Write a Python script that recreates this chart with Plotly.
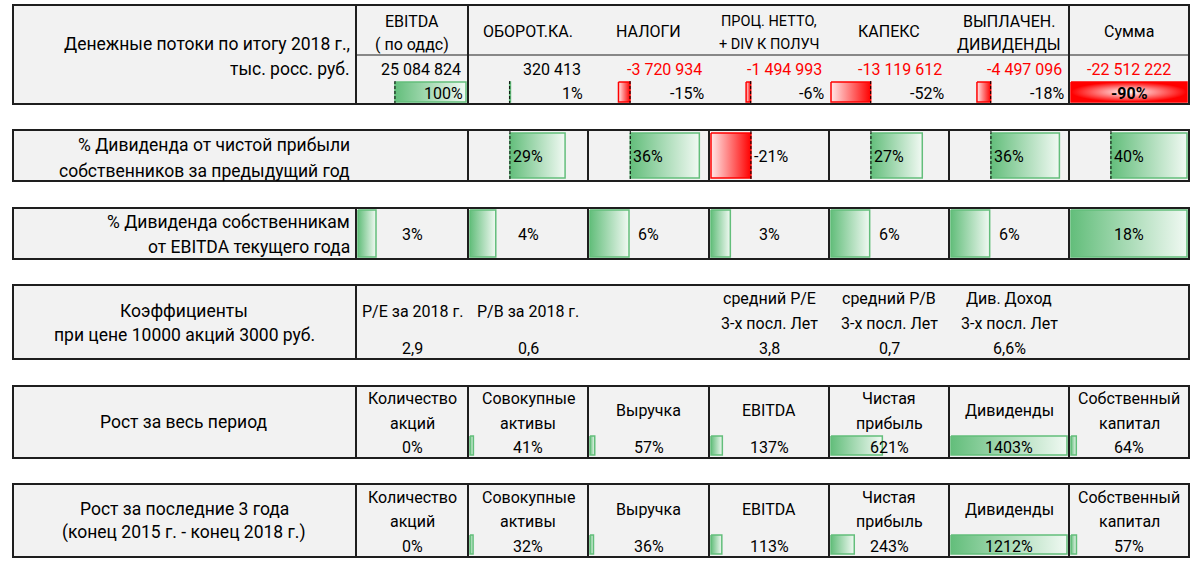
import plotly.graph_objects as go

# ---------------- data ----------------
cf_label = ["Денежные потоки по итогу 2018 г.,", "тыс. росс. руб."]
cf_headers = [["EBITDA", "( по оддс)"], ["ОБОРОТ.КА."], ["НАЛОГИ"],
              ["ПРОЦ. НЕТТО,", "+ DIV К ПОЛУЧ"], ["КАПЕКС"],
              ["ВЫПЛАЧЕН.", "ДИВИДЕНДЫ"], ["Сумма"]]
cf_values = [25084824, 320413, -3720934, -1494993, -13119612, -4497096, -22512222]
cf_shares = [100, 1, -15, -6, -52, -18, -90]

payout_label = ["% Дивиденда от чистой прибыли", "собственников за предыдущий год"]
payout_pct = [29, 36, -21, 27, 36, 40]          # columns 2..7

div_ebitda_label = ["% Дивиденда собственникам", "от EBITDA текущего года"]
div_ebitda_pct = [3, 4, 6, 3, 6, 6, 18]

ratio_label = ["Коэффициенты", "при цене 10000 акций 3000 руб."]
ratio_cols = [0, 1, 3, 4, 5]
ratio_headers = [["P/E за 2018 г."], ["P/B за 2018 г."], ["средний P/E", "3-х посл. Лет"],
                 ["средний P/B", "3-х посл. Лет"], ["Див. Доход", "3-х посл. Лет"]]
ratio_values = ["2,9", "0,6", "3,8", "0,7", "6,6%"]

growth_headers = [["Количество", "акций"], ["Совокупные", "активы"], ["Выручка"], ["EBITDA"],
                  ["Чистая", "прибыль"], ["Дивиденды"], ["Собственный", "капитал"]]
growth_all_label = ["Рост за весь период"]
growth_all = [0, 41, 57, 137, 621, 1403, 64]
growth_3y_label = ["Рост за последние 3 года", "(конец 2015 г. - конец 2018 г.)"]
growth_3y = [0, 32, 36, 113, 243, 1212, 57]

# ---------------- layout constants ----------------
W, H = 1200, 567
X = [13, 356, 468, 588, 709, 829, 949, 1069, 1189]
BODY = "Roboto, 'Noto Sans', sans-serif"
FS = 16
LFS = 17.5
GREEN = "#63BE7B"
RED = "#FF0000"
CELL_BG = "#F2F2F2"
BORDER = "#1E1E1E"


def cell(i):
    return X[i + 1], X[i + 2]


fig = go.Figure()
shapes = []
ann = []


def block(y0, y1, seps, hline=None):
    shapes.append(dict(type="rect", x0=X[0], x1=X[-1], y0=y0, y1=y1, fillcolor=CELL_BG,
                       line=dict(color=BORDER, width=2), layer="below"))
    for s in seps:
        shapes.append(dict(type="line", x0=s, x1=s, y0=y0, y1=y1,
                           line=dict(color=BORDER, width=2), layer="below"))
    if hline is not None:
        shapes.append(dict(type="line", x0=hline[0], x1=hline[1], y0=hline[2], y1=hline[2],
                           line=dict(color=BORDER, width=1), layer="below"))


def txt(x, y, s, anchor="center", size=FS, color="black", bold=False):
    if bold:
        s = "<b>" + s + "</b>"
    ann.append(dict(x=x, y=y, text=s, showarrow=False, xanchor=anchor, yanchor="middle",
                    font=dict(family=BODY, size=size, color=color)))


def bar_geom(left, right, v, vmin, vmax, pad=2):
    lo = min(vmin, 0)
    hi = max(vmax, 0)
    inner = right - left - 2 * pad
    axis = left + pad + inner * (-lo) / (hi - lo)
    end = axis + inner * v / (hi - lo)
    return axis, end


def add_bar(axis, end, y0, y1, v, radial=False):
    if abs(end - axis) < 0.5:
        return
    a, b = min(axis, end), max(axis, end)
    if radial:
        grad = dict(type="radial", colorscale=[[0, "#FFFFFF"], [0.5, "#FF8080"], [1, RED]])
        col = RED
    elif v >= 0:
        grad = dict(type="horizontal", colorscale=[[0, GREEN], [1, "#F1F9F3"]])
        col = GREEN
    else:
        grad = dict(type="horizontal", colorscale=[[0, "#FFE8E8"], [1, RED]])
        col = RED
    fig.add_trace(go.Scatter(x=[a, b, b, a, a], y=[y0, y0, y1, y1, y0], mode="lines",
                             fill="toself", fillgradient=grad,
                             line=dict(color=col, width=1.5), hoverinfo="skip",
                             showlegend=False))


def add_axis(x, y0, y1):
    fig.add_trace(go.Scatter(x=[x, x], y=[y0, y1], mode="lines",
                             line=dict(color="#000000", width=1, dash="3px,2px"),
                             hoverinfo="skip", showlegend=False))


# ---------------- Block 1: cash flows ----------------
b1 = (5, 104)
block(*b1, [X[1], X[2], X[7]], hline=(X[1], X[-1], 55))
txt(352, 44, cf_label[0], "right", LFS)
txt(352, 69, cf_label[1], "right", LFS)
for i, hd in enumerate(cf_headers):
    l, r = cell(i)
    cx = (l + r) / 2
    size = 14.5 if i == 3 else FS
    if len(hd) == 2:
        txt(cx, 21, hd[0], size=size)
        txt(cx, 44, hd[1], size=size)
    else:
        txt(cx, 31, hd[0], size=size)
    s = f"{cf_values[i]:,}".replace(",", " ")
    color = RED if cf_values[i] < 0 else "black"
    if i == 6:
        txt(cx, 69, s, "center", color=color)
    else:
        txt(r - 5, 69, s, "right", color=color)

row_min = min(cf_shares[:6])
row_max = max(cf_shares[:6])
for i in range(6):
    l, r = cell(i)
    axis, end = bar_geom(l, r, cf_shares[i], row_min, row_max)
    add_bar(axis, end, 82, 102, cf_shares[i])
    add_axis(axis, 81, 103)
    txt(r - 3, 93, f"{cf_shares[i]}%", "right")
l, r = cell(6)
axis, end = bar_geom(l, r, cf_shares[6], cf_shares[6], cf_shares[6])
add_bar(axis, end, 82, 102, cf_shares[6], radial=True)
txt((l + r) / 2, 93, f"{cf_shares[6]}%", bold=True)

# ---------------- Block 2: payout ratio ----------------
b2 = (130, 181)
block(*b2, X[2:8])
txt(352, 145, payout_label[0], "right", LFS)
txt(352, 171, payout_label[1], "right", LFS)
pmin, pmax = min(payout_pct), max(payout_pct)
for k, v in enumerate(payout_pct):
    l, r = cell(k + 1)
    axis, end = bar_geom(l, r, v, pmin, pmax)
    add_bar(axis, end, 133, 178, v)
    add_axis(axis, 131, 180)
    txt(axis + 1, 156, f"{v}%", "left")

# ---------------- Block 3: dividends / EBITDA ----------------
b3 = (208, 259)
block(*b3, X[1:8])
txt(352, 222, div_ebitda_label[0], "right", LFS)
txt(352, 247, div_ebitda_label[1], "right", LFS)
dmin, dmax = min(div_ebitda_pct), max(div_ebitda_pct)
for i, v in enumerate(div_ebitda_pct):
    l, r = cell(i)
    axis, end = bar_geom(l, r, v, dmin, dmax)
    add_bar(axis, end, 210, 257, v)
    txt((l + r) / 2, 234, f"{v}%")

# ---------------- Block 4: ratios ----------------
b4 = (285, 359)
block(*b4, [X[1]])
txt(184, 311, ratio_label[0], "center", LFS)
txt(184, 335, ratio_label[1], "center", LFS)
for c, hd, val in zip(ratio_cols, ratio_headers, ratio_values):
    l, r = cell(c)
    cx = (l + r) / 2
    if len(hd) == 2:
        txt(cx, 298, hd[0])
        txt(cx, 323, hd[1])
    else:
        txt(cx, 311, hd[0])
    txt(cx, 348, val)


# ---------------- Blocks 5-6: growth ----------------
def growth_block(y0, y1, label, values, ys, bar_y):
    block(y0, y1, X[1:8])
    if len(label) == 1:
        txt(184, (y0 + y1) / 2, label[0], "center", LFS)
    else:
        txt(184, (y0 + y1) / 2 - 12, label[0], "center", LFS)
        txt(184, (y0 + y1) / 2 + 12, label[1], "center", LFS)
    gmin, gmax = min(values), max(values)
    for i, v in enumerate(values):
        l, r = cell(i)
        cx = (l + r) / 2
        axis, end = bar_geom(l, r, v, gmin, gmax)
        add_bar(axis, end, bar_y[0], bar_y[1], v)
        hd = growth_headers[i]
        if len(hd) == 2:
            txt(cx, ys[0], hd[0])
            txt(cx, ys[1], hd[1])
        else:
            txt(cx, (ys[0] + ys[1]) / 2, hd[0])
        txt(cx, ys[2], f"{v}%")


growth_block(386, 458, growth_all_label, growth_all, (398, 423, 447), (436, 455))
growth_block(484, 557, growth_3y_label, growth_3y, (497, 521, 546), (535, 554))

fig.update_layout(
    width=W, height=H,
    margin=dict(l=0, r=0, t=0, b=0),
    paper_bgcolor="white", plot_bgcolor="white",
    xaxis=dict(range=[0, W], visible=False, fixedrange=True),
    yaxis=dict(range=[H, 0], visible=False, fixedrange=True),
    shapes=shapes, annotations=ann, showlegend=False,
)
fig.write_html("out.html", config={"displayModeBar": False},
               post_script="document.body.style.margin='0';document.body.style.overflow='hidden';")
